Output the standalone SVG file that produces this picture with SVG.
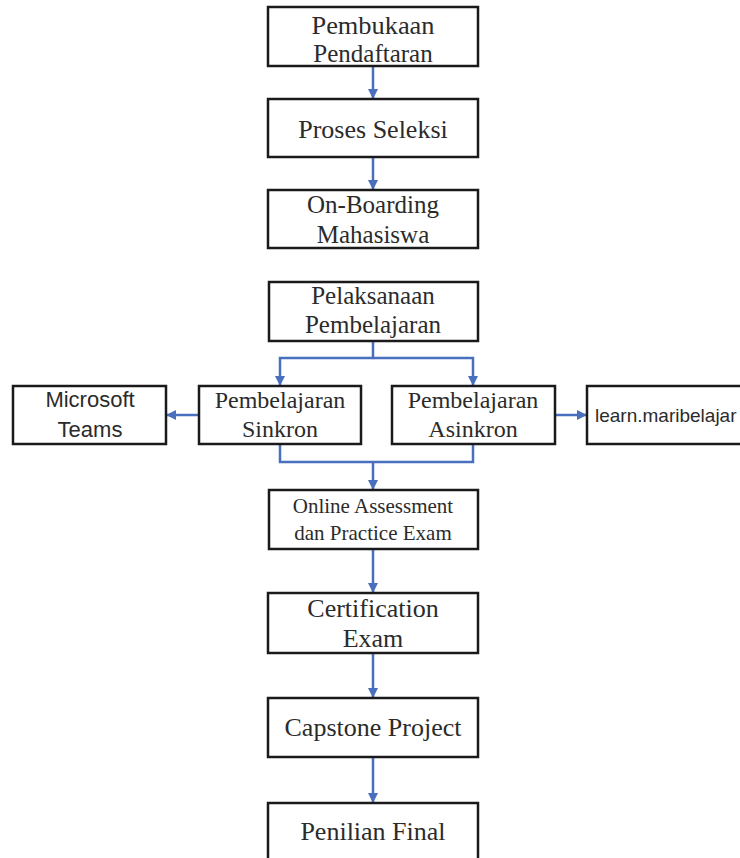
<svg xmlns="http://www.w3.org/2000/svg" width="740" height="858" viewBox="0 0 740 858">
<style>
.box{fill:#fff;stroke:#1a1a1a;stroke-width:2.5}
.t{font-family:"Liberation Serif","Times New Roman",serif;fill:#2b2b2b;text-anchor:middle}
.s{font-family:"Liberation Sans",Arial,sans-serif;fill:#2b2b2b;text-anchor:middle}
.c{fill:none;stroke:#4a6fbf;stroke-width:2.5}
</style>
<defs>
<marker id="ah" viewBox="0 0 10 10" refX="9" refY="5" markerWidth="4" markerHeight="4" orient="auto" markerUnits="strokeWidth">
<path d="M0,0 L10,5 L0,10 Z" fill="#4a6fbf"/>
</marker>
</defs>
<rect width="740" height="858" fill="#fff"/>
<g id="connectors">
<path class="c" d="M373,66 V98" marker-end="url(#ah)"/>
<path class="c" d="M373,157 V189" marker-end="url(#ah)"/>
<path class="c" d="M373,341 V358 H280 V385" marker-end="url(#ah)"/>
<path class="c" d="M373,358 H473 V385" marker-end="url(#ah)"/>
<path class="c" d="M199,415 H167" marker-end="url(#ah)"/>
<path class="c" d="M555,415 H586" marker-end="url(#ah)"/>
<path class="c" d="M280,444 V462 H473 V444"/>
<path class="c" d="M373,462 V489" marker-end="url(#ah)"/>
<path class="c" d="M373,549 V592" marker-end="url(#ah)"/>
<path class="c" d="M373,653 V697" marker-end="url(#ah)"/>
<path class="c" d="M373,757 V802" marker-end="url(#ah)"/>
</g>
<g id="n1"><rect class="box" x="268" y="7" width="210" height="59"/>
<text class="t" x="373" y="34" font-size="25" textLength="123" lengthAdjust="spacingAndGlyphs">Pembukaan</text>
<text class="t" x="373" y="62" font-size="25">Pendaftaran</text></g>
<g id="n2"><rect class="box" x="268" y="99" width="210" height="58"/>
<text class="t" x="373" y="138" font-size="26">Proses Seleksi</text></g>
<g id="n3"><rect class="box" x="268" y="190" width="210" height="58"/>
<text class="t" x="373" y="213" font-size="25">On-Boarding</text>
<text class="t" x="373" y="243" font-size="25">Mahasiswa</text></g>
<g id="n4"><rect class="box" x="269" y="282" width="209" height="59"/>
<text class="t" x="373" y="304" font-size="25">Pelaksanaan</text>
<text class="t" x="373" y="333" font-size="25">Pembelajaran</text></g>
<g id="n5"><rect class="box" x="13" y="386" width="153" height="58"/>
<text class="s" x="90" y="407" font-size="22">Microsoft</text>
<text class="s" x="90" y="437" font-size="22">Teams</text></g>
<g id="n6"><rect class="box" x="199" y="386" width="162" height="58"/>
<text class="t" x="280" y="408" font-size="24">Pembelajaran</text>
<text class="t" x="280" y="437" font-size="24">Sinkron</text></g>
<g id="n7"><rect class="box" x="392" y="386" width="163" height="58"/>
<text class="t" x="473" y="408" font-size="24">Pembelajaran</text>
<text class="t" x="473" y="437" font-size="24">Asinkron</text></g>
<g id="n8"><rect class="box" x="587" y="386" width="170" height="58"/>
<text class="s" x="595" y="422" font-size="19" style="text-anchor:start">learn.maribelajar</text></g>
<g id="n9"><rect class="box" x="269" y="490" width="209" height="59"/>
<text class="t" x="373" y="513" font-size="21">Online Assessment</text>
<text class="t" x="373" y="540" font-size="21">dan Practice Exam</text></g>
<g id="n10"><rect class="box" x="268" y="593" width="210" height="60"/>
<text class="t" x="373" y="617" font-size="26">Certification</text>
<text class="t" x="373" y="647" font-size="26">Exam</text></g>
<g id="n11"><rect class="box" x="268" y="698" width="210" height="59"/>
<text class="t" x="373" y="736" font-size="26">Capstone Project</text></g>
<g id="n12"><rect class="box" x="268" y="803" width="210" height="70"/>
<text class="t" x="373" y="840" font-size="26">Penilian Final</text></g>
</svg>
